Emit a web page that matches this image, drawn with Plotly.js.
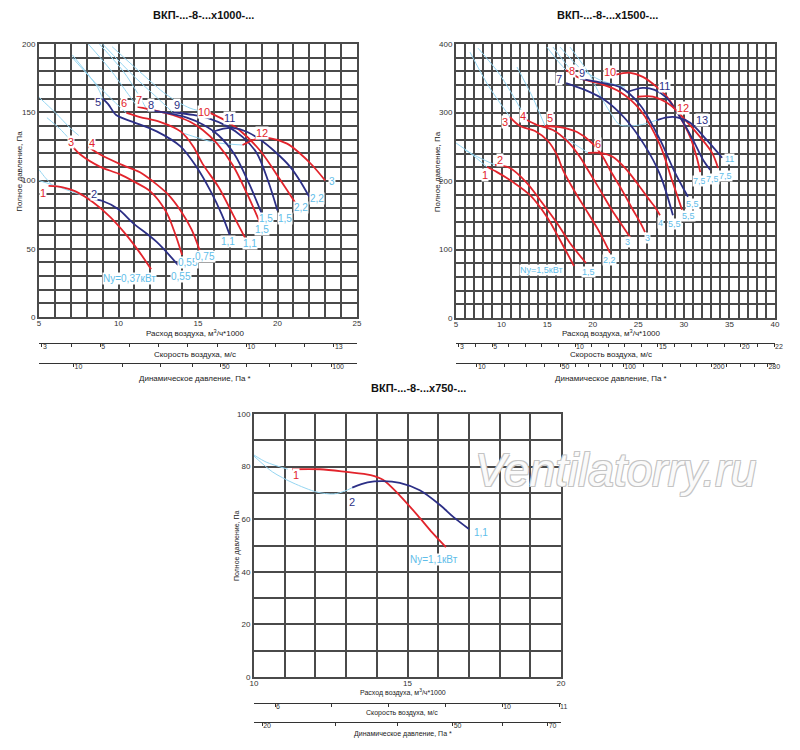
<!DOCTYPE html>
<html>
<head>
<meta charset="utf-8">
<script src="https://cdn.plot.ly/plotly-3.0.1.min.js"></script>
<style>
  html, body { margin: 0; padding: 0; background: #fff; }
  #chart { width: 800px; height: 750px; }
</style>
</head>
<body>
<div id="chart"></div>
<script>
/////Data/////
// ВКП-...-8-...х1000-... : flow (m3/h*1000) and total pressure (Pa), one row per curve
const flow1000 = [
  [5.6, 6.5, 7.3, 8.4, 9.5, 10.5, 11.35, 12.05],
  [8.3, 9.0, 10.0, 10.9, 12.4, 13.75],
  [7.1, 7.6, 8.85, 10, 11, 12, 13, 13.5, 14],
  [8.1, 8.85, 10.1, 11.35, 12.2, 13.1, 13.9, 14.6, 15.1],
  [9.0, 9.35, 9.85, 10.9, 12.4, 13.9, 14.9, 15.8, 16.5, 17.0],
  [10.5, 11.35, 12.6, 13.9, 14.7, 15.3, 16.3, 17.2, 17.96],
  [11.2, 12.2, 13.4, 14.5, 15.3, 16.2, 17.2, 18.1, 18.9],
  [11.8, 13.05, 14.3, 15.3, 16.3, 17.3, 18.2, 19.0],
  [13.4, 14.7, 15.8, 16.8, 17.8, 18.7, 19.4, 20.0],
  [15.75, 16.7, 17.6, 18.9, 20.2, 21.1],
  [15.9, 16.6, 17.2, 18.1, 18.9, 19.9, 20.8, 21.4, 22.0],
  [17.8, 18.7, 19.5, 20.6, 21.4, 22.2, 23.0]
];
const press1000 = [
  [96, 95, 92, 84, 73, 60, 47, 35],
  [86.5, 85, 79, 69, 55, 38],
  [125, 119, 110, 105, 99, 92, 77, 63, 45.5],
  [124.5, 119, 112, 106, 99, 90, 78, 64, 49],
  [160, 156, 148, 143, 136, 125, 110, 92, 75, 60],
  [149.5, 146.5, 143, 136, 125, 112, 95, 75, 58],
  [154, 151.5, 148, 143, 137, 127, 111, 90, 69],
  [151.5, 149.5, 146, 141, 133, 119, 98, 76],
  [150, 148, 145, 140, 132, 120, 100, 78],
  [149.5, 144, 137, 122, 100, 84],
  [135.5, 138, 138.5, 135.5, 130, 120.5, 110, 100, 88],
  [126, 130.5, 131, 127, 120, 111, 100]
];
const names1000 = ['1', '2', '3', '4', '5', '6', '7', '8', '9', '10', '11', '12'];
const numQ1000 = [5.25, 8.45, 7.0, 8.33, 8.7, 10.35, 11.3, 12.05, 13.7, 15.4, 17.0, 19.0];
const numP1000 = [91, 90, 128, 127.5, 157.5, 157, 159, 155, 155, 150, 146, 135];
const power1000 = ['Ny=0,37кВт', '0,55', '0,55', '0,75', '1,1', '1,1', '1,5', '1,5', '1,5', '2,2', '2,2', '3'];
const powQ1000 = [10.7, 13.9, 14.4, 15.45, 16.9, 18.3, 19.0, 19.3, 20.5, 21.5, 22.5, 23.4];
const powP1000 = [28, 30, 40, 44, 55, 53.5, 64, 72, 72, 80.5, 87, 99.6];
const skyQ1000 = [
  [5, 6, 7, 7.5], [5.5, 6.3, 7.1], [7.1, 8, 8.7, 9.0], [7.1, 8.5, 9.8, 10.5],
  [8.1, 9.5, 10.5, 11.2], [8.8, 10.3, 11.2, 11.8], [9, 11, 12.4, 13.4],
  [9.6, 11.5, 13, 14.5, 15.75], [14, 16, 17.8], [5, 5.4, 5.8], [5, 6.3, 7.5, 8.3]
];
const skyP1000 = [
  [161, 150, 138, 133], [146, 138, 128], [192, 179, 168, 160], [190, 172, 157, 149.5],
  [200, 181, 165, 154], [200, 180, 164, 151.5], [200, 176, 161, 150],
  [198, 178, 163, 153, 149.5], [135, 128, 126], [108, 102, 97], [100, 95, 90, 86.5]
];
const speedTicks1000 = [3, 4, 5, 6, 7, 8, 9, 10, 11, 12, 13];
const speedText1000 = ['3', '', '5', '', '', '', '', '10', '', '', '13'];
const dynTicks1000 = [10, 20, 30, 40, 50, 60, 70, 80, 90, 100];
const dynText1000 = ['10', '', '', '', '50', '', '', '', '', '100'];

// ВКП-...-8-...х1500-...
const flow1500 = [
  [8.4, 9.5, 11.25, 13.1, 14.98, 16.41, 17.95],
  [9.28, 10.92, 12.79, 14.22, 16.08, 17.5, 19.26],
  [10.92, 12.02, 13.67, 15.09, 16.08, 16.74, 18.06, 19.48, 20.8, 21.9],
  [12.79, 13.89, 15.64, 17.29, 18.6, 19.48, 20.8, 22.1, 23.2, 24.1],
  [14.77, 16.41, 18.28, 19.92, 21.13, 21.9, 23.2, 24.42, 25.19, 25.74],
  [19.48, 20.8, 22.23, 23.54, 24.86, 26.07, 26.83, 27.38],
  [17.07, 19.15, 21.35, 23.5, 25.7, 27.4, 28.8],
  [17.07, 18.6, 20.8, 23, 25.2, 27.4, 28.7, 29.8],
  [18.6, 20.8, 23, 25.2, 27.4, 29.0, 30.45],
  [22.45, 24.1, 25.5, 27.05, 28.15, 29.6, 30.7, 31.4, 31.8],
  [23.8, 25.5, 26.8, 28.15, 29.6, 31, 32.1, 32.9],
  [24.9, 26.6, 28.5, 29.9, 31.8, 33.1, 33.75],
  [27.05, 28.15, 29.25, 30.7, 32.5, 34.2]
];
const press1500 = [
  [220.4, 213, 198.5, 179.6, 147.4, 113.9, 75.9],
  [223.4, 219, 197, 172.3, 138.7, 109.5, 80.3],
  [293.4, 280.3, 273, 258.4, 238, 216, 184, 153.3, 124, 95],
  [289, 281.8, 274.5, 257, 235, 216, 187, 157.7, 135.8, 118],
  [280.3, 278.8, 271.5, 255.5, 235, 216, 187, 157.7, 140, 125.5],
  [241, 241, 235, 219, 197, 175, 162, 150],
  [343, 333, 318, 292, 252, 209, 150],
  [362, 350, 342, 330, 304, 252, 201, 158],
  [349, 344, 337, 311, 260, 213, 177],
  [355, 358, 352, 337, 323, 293, 264, 235, 213],
  [330, 336, 333, 321, 293, 260, 231, 216],
  [323, 323, 311, 293, 264, 241, 219],
  [289, 293, 293, 285, 260, 234]
];
const names1500 = ['1', '2', '3', '4', '5', '6', '7', '8', '9', '10', '11', '12', '13'];
const numQ1500 = [8.2, 9.8, 10.4, 12.35, 15.3, 20.6, 16.3, 17.7, 18.8, 21.9, 27.9, 29.9, 32.0];
const numP1500 = [209, 231, 286, 295, 292, 254, 349, 361, 358, 359, 339, 307, 289];
const power1500 = ['Ny=1,5кВт', '1,5', '2,2', '3', '3', '4', '5,5', '5,5', '5,5', '7,5', '7,5', '7,5', '11'];
const powQ1500 = [14.4, 19.5, 21.8, 23.8, 26, 27.4, 29, 30.5, 31, 31.7, 33.1, 34.6, 35];
const powP1500 = [70, 67, 85, 111, 117, 139, 137, 149, 166, 200, 203, 207, 232];
const skyQ1500 = [
  [5, 6.54, 8.4], [5.99, 7.63, 9.28], [6.54, 8.51, 10.92], [7.41, 9.83, 12.79],
  [11.69, 13.45, 14.77], [15, 16.96, 19.48], [14.98, 16.08, 17.07], [15.64, 17.18, 18.6],
  [16.41, 18.6, 20.8, 23.54], [17.5, 19.7, 20.8, 22.1, 23, 25.19, 27.05]
];
const skyP1500 = [
  [255.5, 241, 220.4], [245, 233.6, 223.4], [388, 340, 293.4], [394, 355, 289],
  [366.4, 321, 280.3], [279, 263, 241], [395.6, 376.6, 362], [395.6, 369, 349],
  [395.6, 365, 347.4, 337], [395.6, 354.7, 325.5, 296.4, 281.8, 281.8, 289]
];
const speedTicks1500 = [3, 4, 5, 6, 7, 8, 9, 10, 11, 12, 13, 14, 15, 16, 17, 18, 19, 20, 21, 22];
const speedText1500 = ['3', '', '5', '', '', '', '', '10', '', '', '', '', '15', '', '', '', '', '20', '', '22'];
const dynTicks1500 = [10, 20, 30, 40, 50, 60, 70, 80, 90, 100, 120, 140, 160, 180, 200, 220, 240, 260, 280];
const dynText1500 = ['10', '', '', '', '50', '', '', '', '', '100', '', '', '', '', '200', '', '', '', '280'];

// ВКП-...-8-...х750-...
const flow750 = [
  [11.24, 12.15, 13, 13.8, 14.2, 14.75, 15.4, 15.8, 16.25],
  [13.2, 13.7, 14.2, 14.75, 15.4, 16.06, 16.5, 17.0]
];
const press750 = [
  [79, 79, 78, 76.8, 75, 69, 60.5, 55, 49.4],
  [72, 74, 74.5, 73.8, 71, 65.4, 60.8, 56.3]
];
const names750 = ['1', '2'];
const numQ750 = [11.37, 13.2];
const numP750 = [76.8, 66.5];
const power750 = ['Ny=1,1кВт', '1,1'];
const powQ750 = [15.85, 17.4];
const powP750 = [44.5, 54.8];
const skyQ750 = [[10, 10.4, 11.1], [10, 10.6, 11.27, 12.05, 12.6, 12.96, 13.2]];
const skyP750 = [[84.4, 81.7, 79], [84, 78, 73.8, 70.3, 69.6, 70.7, 72]];
const speedTicks750 = [6, 7, 8, 9, 10, 11];
const speedText750 = ['6', '', '', '', '10', '11'];
const dynTicks750 = [20, 30, 40, 50, 60, 70];
const dynText750 = ['20', '', '', '50', '', '70'];

/////Styles/////
const RED = '#e2242c';
const NAVY = '#2c2f86';
const SKY = '#95d6f2';
const SKYTXT = '#5fbde9';
const GRID = '#4a4a4a';
const FONT = 'Liberation Sans Narrow, Liberation Sans, Arial, sans-serif';
const tones1000 = ['r', 'n', 'r', 'r', 'n', 'r', 'r', 'n', 'n', 'r', 'n', 'r'];
const tones1500 = ['r', 'r', 'r', 'r', 'r', 'r', 'n', 'r', 'n', 'r', 'n', 'r', 'n'];
const tones750 = ['r', 'n'];

/////Builders/////
let traces = [];
let annotations = [];

function addChart(flows, presses, tones, skyQ, skyP, xa, ya) {
  for (let i = 0; i < skyQ.length; i++) {
    traces.push({
      x: skyQ[i], y: skyP[i], xaxis: xa, yaxis: ya, mode: 'lines',
      line: {color: SKY, width: 1, shape: 'spline', smoothing: 0.8},
      hoverinfo: 'skip', showlegend: false
    });
  }
  for (let i = 0; i < flows.length; i++) {
    traces.push({
      x: flows[i], y: presses[i], xaxis: xa, yaxis: ya, mode: 'lines',
      line: {color: tones[i] == 'r' ? RED : NAVY, width: 1.8, shape: 'spline', smoothing: 0.9},
      hoverinfo: 'skip', showlegend: false
    });
  }
}

// a scale axis needs a trace of its own to be drawn; this one has no visible points
function holdAxis(ticks, xa, ya) {
  traces.push({
    x: ticks, y: ticks.map(() => null), xaxis: xa, yaxis: ya, mode: 'lines',
    hoverinfo: 'skip', showlegend: false
  });
}

function addLabels(texts, qs, ps, colorOf, size, xa, ya) {
  for (let i = 0; i < texts.length; i++) {
    annotations.push({
      text: texts[i], x: qs[i], y: ps[i], xref: xa, yref: ya, showarrow: false,
      xanchor: 'center', yanchor: 'middle', bgcolor: '#fff', borderpad: 0,
      font: {family: FONT, size: size, color: colorOf(i)}
    });
  }
}

function paperText(text, x, y, size, opts) {
  annotations.push(Object.assign({
    text: text, x: x, y: y, xref: 'paper', yref: 'paper', showarrow: false,
    xanchor: 'center', yanchor: 'middle',
    font: {family: FONT, size: size, color: '#222'}
  }, opts || {}));
}

function mainAxis(domain, range, dtick, minor, anchor, lift) {
  return {
    domain: domain, range: range, anchor: anchor, tick0: 0, dtick: dtick,
    showgrid: true, gridcolor: GRID, gridwidth: 2,
    minor: {dtick: minor, showgrid: true, gridcolor: GRID, gridwidth: 2},
    showline: true, mirror: true, linecolor: GRID, linewidth: 2,
    zeroline: false, ticks: '', fixedrange: true, ticklabelstandoff: lift || 0,
    tickfont: {family: FONT, size: 8, color: '#333'}
  };
}

// labelled ticks are major ticks, the bare ones are drawn as minor ticks
function scaleAxis(base, domain, pos, range, vals, text, size) {
  const keep = vals.map((v, i) => i).filter((i) => text[i] !== '');
  return {
    overlaying: base, anchor: 'free', position: pos, domain: domain, side: 'bottom',
    range: range, tickmode: 'array',
    tickvals: keep.map((i) => vals[i]), ticktext: keep.map((i) => text[i]),
    minor: {tickmode: 'array', tickvals: vals, ticks: 'outside', ticklen: 3, tickwidth: 1,
            tickcolor: '#333', showgrid: false},
    showgrid: false, zeroline: false, showline: true, linecolor: '#333', linewidth: 1,
    ticks: 'outside', ticklen: 3, tickwidth: 1, tickcolor: '#333',
    ticklabelposition: 'outside right', ticklabelstandoff: -3, fixedrange: true,
    tickfont: {family: FONT, size: size, color: '#333'}
  };
}

// dynamic pressure ticks are placed on the speed scale, Pd = 1.2 * v^2 / 2
const toSpeed = (pd) => Math.sqrt(pd / 0.6);

/////Charts/////
addChart(flow1000, press1000, tones1000, skyQ1000, skyP1000, 'x', 'y');
addChart(flow1500, press1500, tones1500, skyQ1500, skyP1500, 'x2', 'y2');
addChart(flow750, press750, tones750, skyQ750, skyP750, 'x3', 'y3');

holdAxis(speedTicks1000, 'x4', 'y');
holdAxis(dynTicks1000.map(toSpeed), 'x5', 'y');
holdAxis(speedTicks1500, 'x6', 'y2');
holdAxis(dynTicks1500.map(toSpeed), 'x7', 'y2');
holdAxis(speedTicks750, 'x8', 'y3');
holdAxis(dynTicks750.map(toSpeed), 'x9', 'y3');

addLabels(names1000, numQ1000, numP1000, (i) => tones1000[i] == 'r' ? RED : NAVY, 11, 'x', 'y');
addLabels(names1500, numQ1500, numP1500, (i) => tones1500[i] == 'r' ? RED : NAVY, 11, 'x2', 'y2');
addLabels(names750, numQ750, numP750, (i) => tones750[i] == 'r' ? RED : NAVY, 11, 'x3', 'y3');
addLabels(power1000, powQ1000, powP1000, () => SKYTXT, 10, 'x', 'y');
addLabels(power1500, powQ1500, powP1500, () => SKYTXT, 9, 'x2', 'y2');
addLabels(power750, powQ750, powP750, () => SKYTXT, 10, 'x3', 'y3');

const domTL = [0.04875, 0.44625], domTR = [0.57, 0.96875], domB = [0.3175, 0.70125];

// titles
const bold = {family: FONT, size: 11, color: '#111', weight: 'bold'};
paperText('ВКП-...-8-...х1000-...', 0.254, 0.98, 11, {font: bold});
paperText('ВКП-...-8-...х1500-...', 0.759, 0.98, 11, {font: bold});
paperText('ВКП-...-8-...х750-...', 0.5225, 0.4827, 11, {font: bold});

// axis captions
[0.244, 0.764].forEach((x) => {
  paperText('Расход воздуха, м<sup>3</sup>/ч*1000', x, 0.556, 8);
  paperText('Скорость воздуха, м/с', x, 0.527, 8);
  paperText('Динамическое давление, Па *', x, 0.496, 8);
});
paperText('Расход воздуха, м<sup>3</sup>/ч*1000', 0.504, 0.0773, 7);
paperText('Скорость воздуха, м/с', 0.503, 0.0487, 7);
paperText('Динамическое давление, Па *', 0.504, 0.0207, 7);
paperText('Полное давление, Па', 0.025, 0.771, 8, {textangle: -90});
paperText('Полное давление, Па', 0.547, 0.771, 8, {textangle: -90});
paperText('Полное давление, Па', 0.296, 0.273, 7, {textangle: -90});

// watermark
paperText('Ventilatorry.ru', 0.769, 0.3733, 46, {
  font: {family: FONT, size: 46, color: '#fafafa', style: 'italic',
         shadow: '1px 1px 0 #c4c4c4, -1px -1px 0 #c4c4c4, 1px -1px 0 #c4c4c4, -1px 1px 0 #c4c4c4'}
});

const layout = {
  width: 800, height: 750, autosize: false,
  margin: {l: 0, r: 0, t: 0, b: 0},
  paper_bgcolor: '#fff', plot_bgcolor: '#fff',
  showlegend: false, hovermode: false,
  xaxis: mainAxis(domTL, [5, 25], 5, 1, 'y', -3),
  yaxis: mainAxis([0.57733, 0.94133], [0, 200], 50, 10, 'x'),
  xaxis2: mainAxis(domTR, [5, 40], 5, 1, 'y2', -3),
  yaxis2: mainAxis([0.576, 0.94133], [0, 400], 100, 20, 'x2'),
  xaxis3: mainAxis(domB, [10, 20], 5, 1, 'y3', -3),
  yaxis3: mainAxis([0.09733, 0.448], [0, 100], 20, 10, 'x3'),
  xaxis4: scaleAxis('x', domTL, 0.54267, [2.9, 13.79], speedTicks1000, speedText1000, 7),
  xaxis5: scaleAxis('x', domTL, 0.516, [2.9, 13.79], dynTicks1000.map(toSpeed), dynText1000, 7),
  xaxis6: scaleAxis('x2', domTR, 0.54267, [2.82, 22.06], speedTicks1500, speedText1500, 7),
  xaxis7: scaleAxis('x2', domTR, 0.516, [2.82, 22.06], dynTicks1500.map(toSpeed), dynText1500, 7),
  xaxis8: scaleAxis('x3', domB, 0.0627, [5.63, 11.035], speedTicks750, speedText750, 7),
  xaxis9: scaleAxis('x3', domB, 0.0373, [5.63, 11.035], dynTicks750.map(toSpeed), dynText750, 7),
  annotations: annotations
};

Plotly.newPlot('chart', traces, layout, {staticPlot: true, displayModeBar: false});
</script>
</body>
</html>
